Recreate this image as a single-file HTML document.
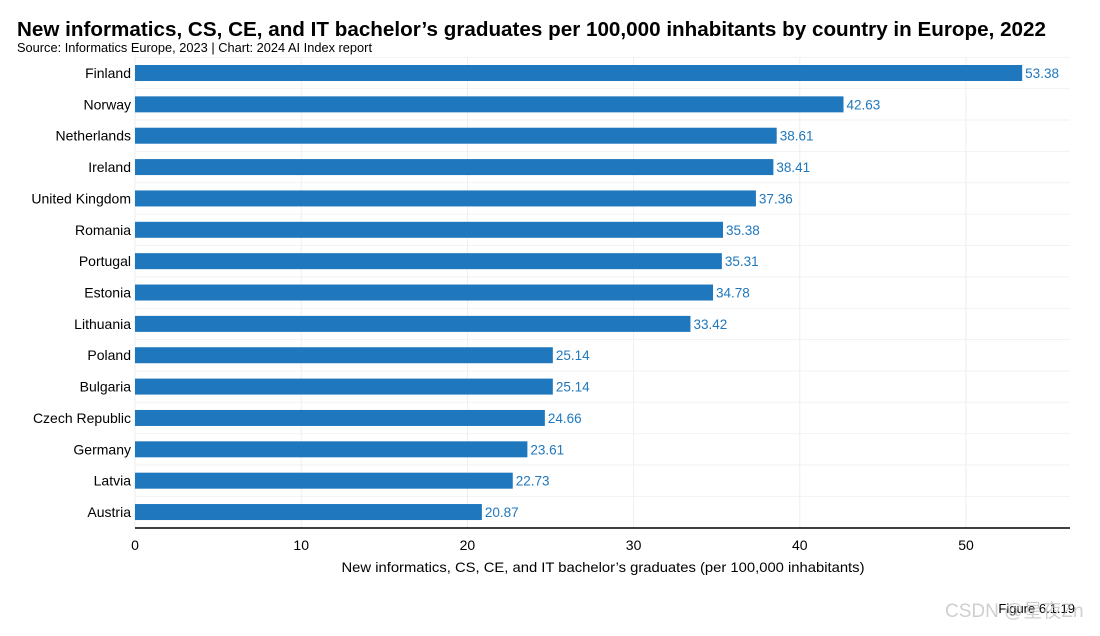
<!DOCTYPE html>
<html><head><meta charset="utf-8"><style>
body{margin:0;background:#fff;width:1100px;height:631px;overflow:hidden;font-family:"Liberation Sans",sans-serif}
</style></head><body>
<svg width="1100" height="631">
<text x="17" y="36" font-size="20.5" font-weight="bold" fill="#000" textLength="1029" lengthAdjust="spacingAndGlyphs">New informatics, CS, CE, and IT bachelor’s graduates per 100,000 inhabitants by country in Europe, 2022</text>
<text x="17" y="52" font-size="12.5" fill="#000" textLength="355" lengthAdjust="spacingAndGlyphs">Source: Informatics Europe, 2023 | Chart: 2024 AI Index report</text>
<g id="grid"></g><g id="bars"></g><g id="axis"></g>
<text x="603" y="572" font-size="14" text-anchor="middle" fill="#000" textLength="523" lengthAdjust="spacingAndGlyphs">New informatics, CS, CE, and IT bachelor’s graduates (per 100,000 inhabitants)</text>
<text x="1075" y="613" font-size="13" text-anchor="end" fill="#000">Figure 6.1.19</text>
<text x="945" y="617" font-size="19" fill="#bbb" opacity="0.7">CSDN @星夜Zn</text>
</svg>
<script>
const countries=["Finland","Norway","Netherlands","Ireland","United Kingdom","Romania","Portugal","Estonia","Lithuania","Poland","Bulgaria","Czech Republic","Germany","Latvia","Austria"];
const values=[53.38,42.63,38.61,38.41,37.36,35.38,35.31,34.78,33.42,25.14,25.14,24.66,23.61,22.73,20.87];
const ticks=[0,10,20,30,40,50];
const NS="http://www.w3.org/2000/svg";
const x0=135,xs=16.62,y0=73,step=31.36,bh=16,right=1070,axisY=528;
const X=v=>x0+v*xs, Y=i=>y0+i*step;
function mk(t,a,p){const e=document.createElementNS(NS,t);for(const k in a)e.setAttribute(k,a[k]);p.appendChild(e);return e;}
const g=document.getElementById('grid'),b=document.getElementById('bars'),ax=document.getElementById('axis');
ticks.forEach(t=>{const l=mk('line',{x1:X(t),x2:X(t),y1:57,y2:axisY,stroke:'#eee'},g);


const tx=mk('text',{x:X(t),y:axisY+22,'font-size':14,'text-anchor':'middle',fill:'#000'},ax);tx.textContent=t;

});
for(let i=0;i<=countries.length;i++){const l=mk('line',{x1:x0,x2:right,y1:Y(i)-step/2,y2:Y(i)-step/2,stroke:'#f2f2f2'},g);

}
countries.forEach((c,i)=>{
const r=mk('rect',{x:x0,y:Y(i)-bh/2,width:X(values[i])-x0,height:bh,fill:'#1f77bd'},b);


const v=mk('text',{x:X(values[i])+3,y:Y(i)+5,'font-size':13.5,fill:'#1f77bd'},b);v.textContent=values[i].toFixed(2);


const l=mk('text',{x:x0-4,y:Y(i)+5,'font-size':14,'text-anchor':'end',fill:'#000'},b);l.textContent=c;

});
const a=mk('line',{x1:x0,x2:right,y1:axisY,y2:axisY,stroke:'#000','stroke-width':1.5},ax);


</script>
</body></html>
